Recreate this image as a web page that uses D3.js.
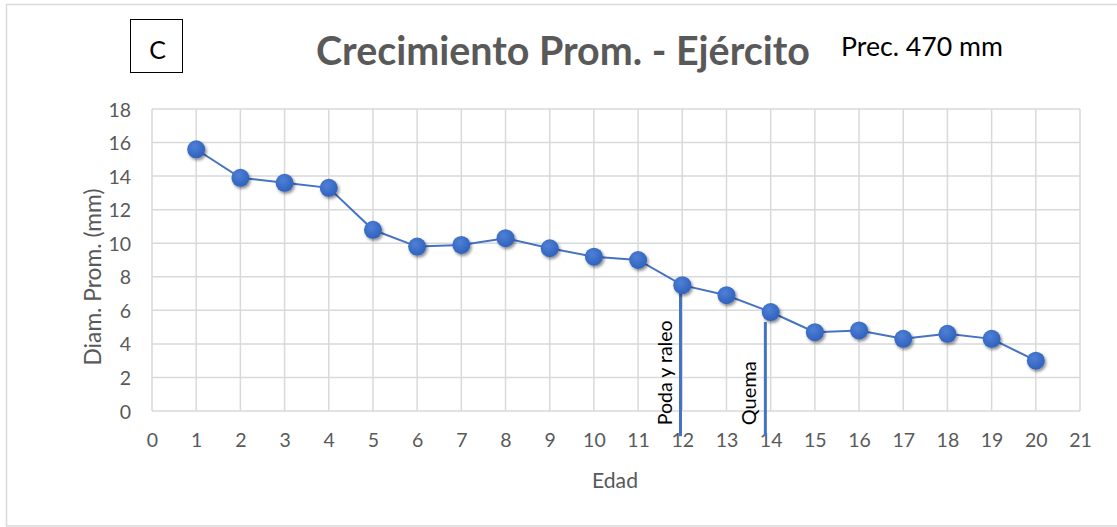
<!DOCTYPE html>
<html>
<head>
<meta charset="utf-8">
<script src="https://cdn.jsdelivr.net/npm/d3@7"></script>
<style>
  html, body { margin: 0; padding: 0; background: #fff; }
  svg { display: block; font-family: Lato, "Open Sans", sans-serif; }
</style>
</head>
<body>
<svg id="chart" width="1117" height="527"></svg>
<script>
// Average annual diameter growth by age
const edad = [1, 2, 3, 4, 5, 6, 7, 8, 9, 10, 11, 12, 13, 14, 15, 16, 17, 18, 19, 20];
const diametro = [15.6, 13.9, 13.6, 13.3, 10.8, 9.8, 9.9, 10.3, 9.7, 9.2, 9.0, 7.5, 6.9, 5.9, 4.7, 4.8, 4.3, 4.6, 4.3, 3.0];
const xTicks = d3.range(0, 22);
const yTicks = [0, 2, 4, 6, 8, 10, 12, 14, 16, 18];

// Management events marked with vertical lines
const eventos = [
  { nombre: "Poda y raleo", x: 11.96, yTop: 7.5, yBottom: -1.5, largo: 105 },
  { nombre: "Quema", x: 13.88, yTop: 5.3, yBottom: -1.5, largo: 64 }
];

const svg = d3.select("#chart");
const plot = { left: 152, right: 1080, top: 109, bottom: 411 };

const x = d3.scaleLinear().domain([0, 21]).range([plot.left, plot.right]);
const y = d3.scaleLinear().domain([0, 18]).range([plot.bottom, plot.top]);

// Resize a text element so it spans the given width
function ajustar(sel, ancho) {
  const fs = +sel.attr("font-size");
  const w = sel.node().getComputedTextLength();
  sel.attr("font-size", (fs * ancho / w).toFixed(2));
  return sel;
}

// Outer chart frame
svg.append("rect")
  .attr("x", 6.5).attr("y", 4.5).attr("width", 1120).attr("height", 521.5)
  .attr("fill", "#fff").attr("stroke", "#d9d9d9").attr("stroke-width", 1.5);

const defs = svg.append("defs");
const grad = defs.append("radialGradient").attr("id", "dotFill")
  .attr("cx", "40%").attr("cy", "35%").attr("r", "65%");
grad.append("stop").attr("offset", "0%").attr("stop-color", "#4f80d6");
grad.append("stop").attr("offset", "100%").attr("stop-color", "#2f62bd");
const shadow = defs.append("filter").attr("id", "dotShadow")
  .attr("x", "-50%").attr("y", "-50%").attr("width", "200%").attr("height", "200%");
shadow.append("feDropShadow").attr("dx", 1.5).attr("dy", 2).attr("stdDeviation", 1.8)
  .attr("flood-color", "#000").attr("flood-opacity", 0.45);

// Gridlines
const grid = svg.append("g");
grid.selectAll("line.v").data(xTicks).join("line")
  .attr("x1", d => x(d)).attr("x2", d => x(d))
  .attr("y1", plot.top).attr("y2", plot.bottom)
  .attr("stroke", "#d9d9d9").attr("stroke-width", 1.5);
grid.selectAll("line.h").data(yTicks).join("line")
  .attr("x1", plot.left).attr("x2", plot.right)
  .attr("y1", d => y(d)).attr("y2", d => y(d))
  .attr("stroke", "#d9d9d9").attr("stroke-width", 1.5);

// Axes (labels only, gridlines provide the frame)
const xAxis = d3.axisBottom(x).tickValues(xTicks).tickSize(0).tickPadding(22);
const gx = svg.append("g").attr("transform", `translate(0,${plot.bottom})`).call(xAxis);
const yAxis = d3.axisLeft(y).tickValues(yTicks).tickSize(0).tickPadding(21);
const gy = svg.append("g").attr("transform", `translate(${plot.left},0)`).call(yAxis);
[gx, gy].forEach(g => {
  g.select(".domain").remove();
  g.selectAll("text").attr("fill", "#595959").attr("font-size", 19.5)
    .attr("font-family", "Lato, 'Open Sans', sans-serif");
});
gy.selectAll("text").attr("dy", "0.36em");

// Axis titles
ajustar(svg.append("text").attr("x", 615).attr("y", 488).attr("text-anchor", "middle")
  .attr("fill", "#595959").attr("font-size", 17).text("Edad"), 46);
ajustar(svg.append("text").attr("transform", "translate(101,277) rotate(-90)")
  .attr("text-anchor", "middle").attr("fill", "#595959").attr("font-size", 17)
  .text("Diam. Prom. (mm)"), 177);

// Event lines and labels
eventos.forEach(ev => {
  svg.append("line")
    .attr("x1", x(ev.x)).attr("x2", x(ev.x))
    .attr("y1", y(ev.yTop)).attr("y2", y(ev.yBottom))
    .attr("stroke", "#4472c4").attr("stroke-width", 3);
  ajustar(svg.append("text")
    .attr("transform", `translate(${x(ev.x) - 9},${y(-0.85)}) rotate(-90)`)
    .attr("fill", "#000").attr("font-size", 16)
    .text(ev.nombre), ev.largo);
});

// Series line
const linea = d3.line().x((d, i) => x(edad[i])).y(d => y(d));
svg.append("path").datum(diametro)
  .attr("d", linea).attr("fill", "none")
  .attr("stroke", "#4472c4").attr("stroke-width", 2);

// Markers
svg.append("g").selectAll("circle").data(diametro).join("circle")
  .attr("cx", (d, i) => x(edad[i])).attr("cy", d => y(d)).attr("r", 9)
  .attr("fill", "url(#dotFill)").attr("filter", "url(#dotShadow)");

// Panel tag
svg.append("rect").attr("x", 130.5).attr("y", 19.5).attr("width", 52).attr("height", 53)
  .attr("fill", "#fff").attr("stroke", "#000").attr("stroke-width", 1);
svg.append("text").attr("x", 157.5).attr("y", 59).attr("text-anchor", "middle")
  .attr("font-size", 25).attr("fill", "#000").text("C");

// Title and precipitation note
ajustar(svg.append("text").attr("x", 316).attr("y", 65)
  .attr("font-size", 31).attr("font-weight", "bold").attr("fill", "#595959")
  .text("Crecimiento Prom. - Ejército"), 494);
ajustar(svg.append("text").attr("x", 841).attr("y", 56)
  .attr("font-size", 21).attr("fill", "#000").text("Prec. 470 mm"), 162);
</script>
</body>
</html>
